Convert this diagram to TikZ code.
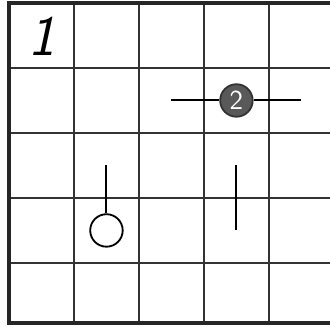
\documentclass[tikz,border=0pt]{standalone}
\begin{document}
\begin{tikzpicture}[
  gridline/.style={draw=black!80,line width=0.6pt},
  frameline/.style={draw=black!85,line width=1.4pt},
  stem/.style={draw=black,line width=0.9pt},
  stone/.style={circle,minimum size=0.5cm,inner sep=0pt,line width=0.8pt}]
  \useasboundingbox (-0.138,0.015) rectangle (4.94,5.046);
  \clip (-0.138,0.015) rectangle (4.94,5.046);
  % board
  \foreach \i in {1,...,4} {
    \draw[gridline] (\i,0.077) -- (\i,5);
    \draw[gridline] (0,\i) -- (5,\i);
  }
  \draw[frameline] (5,5) -- (0,5) -- (0,0.077) -- (5,0.077);
  \node (num) at (0.5,4.48) {\fontsize{25}{25}\selectfont\sffamily\itshape 1};
  % stone 2 and its line
  \coordinate (L2) at (2.5,3.5);
  \coordinate (R2) at (4.5,3.5);
  \node[stone,fill=black!65,draw=black!80,text=white] (two) at (3.5,3.5) {\large\sffamily 2};
  \draw[stem] (L2) -- (two);
  \draw[stem] (two) -- (R2);
  % ring with stem
  \node[stone,draw=black,fill=white] (ring) at (1.5,1.5) {};
  \coordinate (topA) at (1.5,2.5);
  \draw[stem] (topA) -- (ring);
  % single stem
  \coordinate (topB) at (3.5,2.5);
  \coordinate (botB) at (3.5,1.5);
  \draw[stem] (topB) -- (botB);
\end{tikzpicture}
\end{document}
